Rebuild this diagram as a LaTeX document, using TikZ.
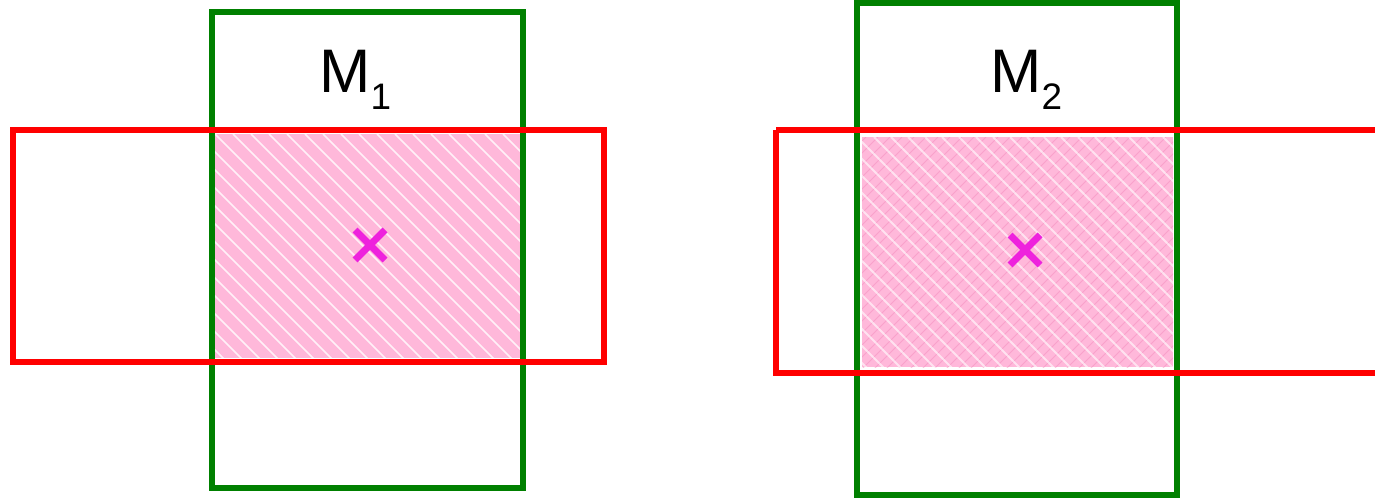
\documentclass[tikz,border=0pt]{standalone}
\usepackage{fontspec}
\setmainfont{Liberation Sans}
\newcommand{\lowsub}[1]{\raisebox{-0.28em}{\fontsize{21}{24}\selectfont #1}}
\begin{document}
\begin{tikzpicture}[x=0.02cm,y=-0.02cm,
  greenbox/.style={draw={rgb,255:red,0;green,128;blue,0}, line width=6*0.02cm},
  redbox/.style={draw={rgb,255:red,255;green,0;blue,0}, line width=6*0.02cm},
  overlap/.style={fill={rgb,255:red,255;green,184;blue,218}, draw=none},
  hatch/.style={draw=white, line width=0.9pt, opacity=0.8},
  finehatch/.style={draw={rgb,255:red,245;green,140;blue,190}, line width=0.5pt, opacity=0.5},
  centremark/.style={draw={rgb,255:red,238;green,34;blue,221}, line width=7*0.02cm},
  lbl/.style={font=\fontsize{35}{40}\selectfont, inner sep=0pt}]
\useasboundingbox (0,0) rectangle (1375,500);
% ---------- left ----------
\fill[overlap] (215,134) rectangle (521,358);
\begin{scope}
  \clip (215,134) rectangle (521,358);
  \foreach \i in {-252,-234,...,320} {
    \draw[hatch] (215+\i,134) -- (215+\i+260,394);
  }
\end{scope}
\draw[greenbox] (212,12) rectangle (523,488);
\draw[redbox] (13,130) rectangle (604,362);
\draw[centremark] (355,230) -- (385,260);
\draw[centremark] (355,260) -- (385,230);
\node[lbl, anchor=base west] (m1) at (319,92) {M\lowsub{1}};
% ---------- right ----------
\fill[overlap] (862,137) rectangle (1173,367);
\begin{scope}
  \clip (862,137) rectangle (1173,367);
  \foreach \i in {-260,-248,...,320} {
    \draw[finehatch] (862+\i+240,137) -- (862+\i,377);
  }
  \foreach \i in {-260,-243,...,320} {
    \draw[hatch, opacity=0.6, line width=1.1pt] (862+\i,137) -- (862+\i+240,377);
  }
\end{scope}
\draw[greenbox] (857,3) rectangle (1177,495);
\draw[redbox] (776,130) -- (1380,130) (776,130) -- (776,373) -- (1380,373);
\draw[centremark] (1010,235) -- (1040,265);
\draw[centremark] (1010,265) -- (1040,235);
\node[lbl, anchor=base west] (m2) at (990,92) {M\lowsub{2}};
\end{tikzpicture}
\end{document}
